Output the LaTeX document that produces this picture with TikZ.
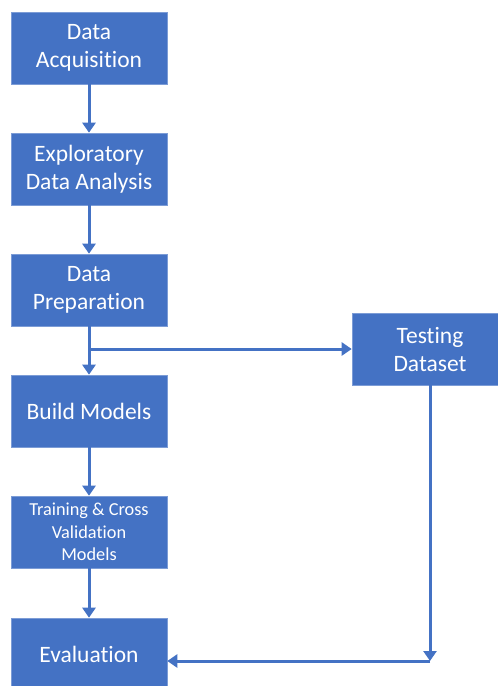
\documentclass[tikz,border=0pt]{standalone}
\usepackage{fontspec}
\setmainfont[Ligatures={NoCommon}]{Carlito}
\usetikzlibrary{arrows.meta}
\definecolor{boxblue}{HTML}{4472C4}
\tikzset{
  stepbox/.style={rectangle, fill=boxblue, draw=boxblue!70!white, line width=0.6pt,
    minimum width=156pt, minimum height=72pt, inner sep=0pt, align=center,
    text=white, font=\fontsize{23.5pt}{28pt}\selectfont},
  smallbox/.style={stepbox, font=\fontsize{18.3pt}{22.3pt}\selectfont},
  flow/.style={draw=boxblue, line width=3pt, -{Triangle[width=13pt,length=10pt]}},
}
\begin{document}
\begin{tikzpicture}[x=1pt,y=-1pt]
  \useasboundingbox (0,0) rectangle (498,686);
  \fill[white] (0,0) rectangle (498,686);
  \node[stepbox] (acq)   at (89,48)   {Data\\Acquisition};
  \node[stepbox] (eda)   at (89,169)  {Exploratory\\Data Analysis};
  \node[stepbox] (prep)  at (89,290)  {Data\\Preparation};
  \node[stepbox] (build) at (89,411)  {Build Models};
  \node[smallbox] (train) at (89,532) {Training \& Cross\\Validation\\Models};
  \node[stepbox] (eval)  at (89,654)  {Evaluation};
  \node[stepbox] (test)  at (430,349) {Testing\\Dataset};
  \coordinate (split) at (89,349);
  \coordinate (corner) at (430,661);

  \draw[flow] (acq) -- (eda);
  \draw[flow] (eda) -- (prep);
  \draw[flow] (prep) -- (build);
  \draw[flow] (split) -- (test);
  \draw[flow] (build) -- (train);
  \draw[flow] (train) -- (eval);
  \draw[flow] (test) -- (corner);
  \draw[flow] (corner) -- (eval.east |- corner);
\end{tikzpicture}
\end{document}
